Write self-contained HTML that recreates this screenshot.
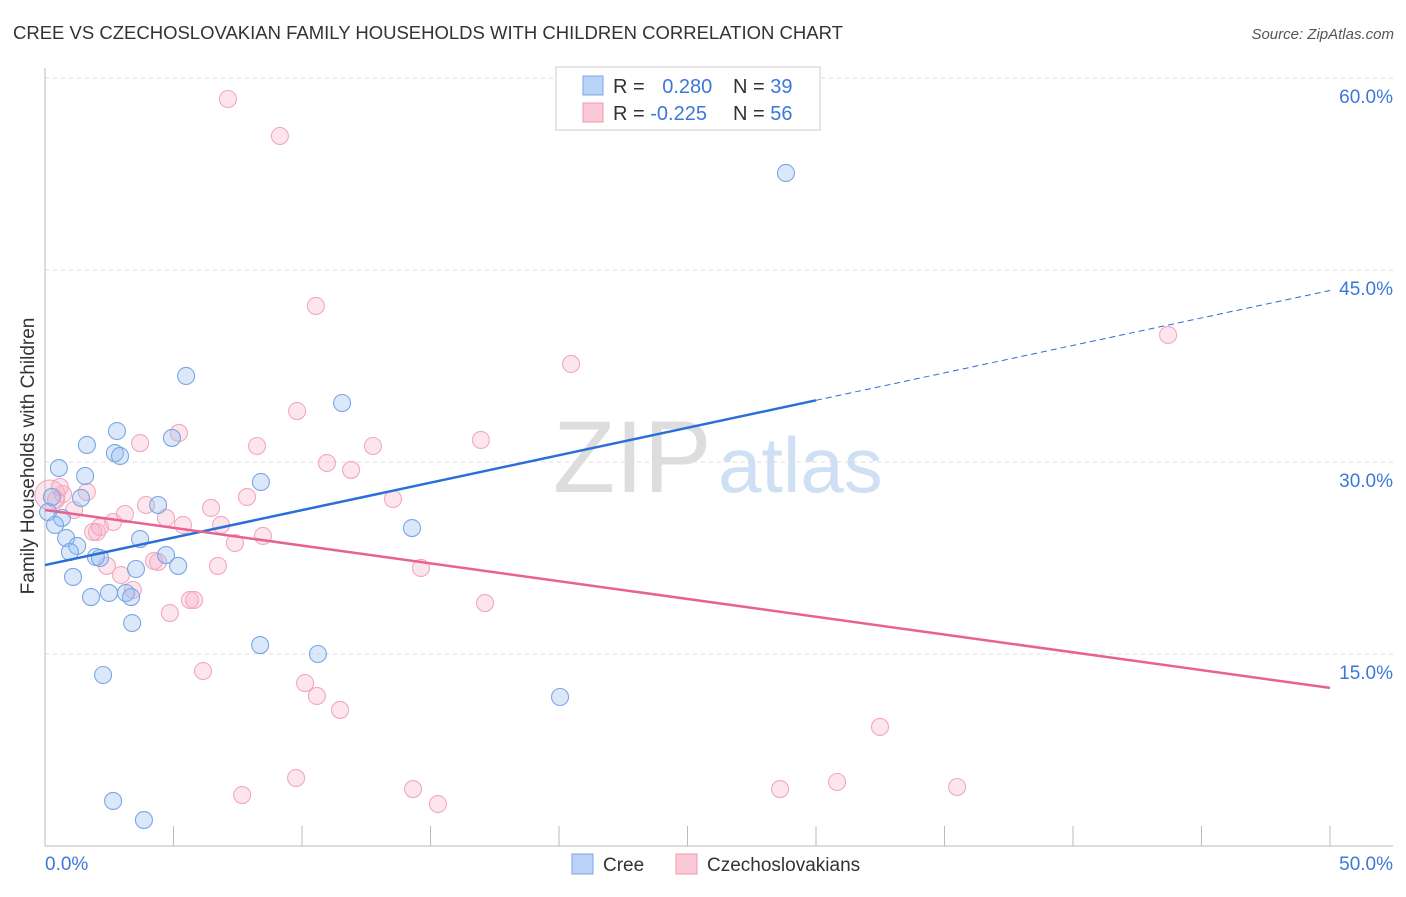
<!DOCTYPE html>
<html><head><meta charset="utf-8"><style>
body{margin:0;background:#fff;font-family:"Liberation Sans",sans-serif}
svg text{font-family:"Liberation Sans",sans-serif}
</style></head><body>
<svg id="c" width="1406" height="892" xmlns="http://www.w3.org/2000/svg">
<text x="13" y="39" font-size="18.5" fill="#333">CREE VS CZECHOSLOVAKIAN FAMILY HOUSEHOLDS WITH CHILDREN CORRELATION CHART</text>
<text x="1394" y="39" font-size="15" fill="#555" text-anchor="end" font-style="italic">Source: ZipAtlas.com</text>
<text x="34" y="456" font-size="19" fill="#333" text-anchor="middle" transform="rotate(-90 34 456)">Family Households with Children</text>
<text x="553" y="492" font-size="102" fill="#ddd" font-family="Liberation Serif">ZIP</text>
<text x="718" y="492" font-size="78" fill="#cfe0f5">atlas</text>
<g id="grid"></g><g id="axes"></g><g id="pts"></g><g id="lines"></g>
<g>
<rect x="556" y="67" width="264" height="63" fill="#fff" stroke="#ccc"/>
<rect x="583" y="76" width="20" height="19" fill="#b9d2f5" stroke="#7aa6e6"/>
<rect x="583" y="103" width="20" height="19" fill="#fcc9d7" stroke="#ee9ab3"/>
<text x="613" y="93" font-size="20" fill="#333">R = <tspan fill="#3b78d8" dx="12">0.280</tspan></text>
<text x="733" y="93" font-size="20" fill="#333">N = <tspan fill="#3b78d8">39</tspan></text>
<text x="613" y="120" font-size="20" fill="#333">R = <tspan fill="#3b78d8">-0.225</tspan></text>
<text x="733" y="120" font-size="20" fill="#333">N = <tspan fill="#3b78d8">56</tspan></text>
</g>
<g>
<rect x="572" y="854" width="21" height="20" fill="#b9d2f5" stroke="#7aa6e6"/>
<text x="603" y="871" font-size="19" fill="#333">Cree</text>
<rect x="676" y="854" width="21" height="20" fill="#fcc9d7" stroke="#ee9ab3"/>
<text x="707" y="871" font-size="19" fill="#333">Czechoslovakians</text>
</g>
</svg>
<script>
const creeX=[28.83,5.49,11.56,2.80,1.63,4.94,2.72,2.92,0.54,1.56,8.40,1.40,0.27,0.12,0.66,4.40,0.39,14.28,0.82,3.70,1.25,0.97,4.71,1.98,2.14,5.18,3.54,1.09,2.49,3.15,1.79,3.35,3.39,8.37,10.62,2.26,20.04,2.65,3.85];
const creeY=[52.58,36.72,34.61,32.42,31.33,31.88,30.70,30.47,29.53,28.91,28.44,27.19,27.27,26.09,25.63,26.64,25.08,24.84,24.06,23.98,23.44,22.97,22.73,22.58,22.50,21.88,21.64,21.02,19.77,19.77,19.45,19.45,17.42,15.70,15.0,13.36,11.64,3.52,2.03];
const czX=[0.19,7.12,9.14,10.54,20.47,43.70,9.81,5.21,3.70,8.25,12.76,16.96,10.97,11.91,0.70,1.63,7.86,13.54,3.93,1.13,6.46,3.11,4.71,2.65,5.37,6.85,2.02,1.87,8.48,7.39,4.24,4.40,2.41,6.73,14.63,2.96,3.42,5.64,5.80,17.12,4.86,6.15,10.12,10.58,11.48,32.49,9.77,7.67,14.32,15.29,28.60,30.82,35.49,0.43,2.14,0.58];
const czY=[27.42,58.36,55.47,42.19,37.66,39.92,33.98,32.27,31.48,31.25,31.25,31.72,29.92,29.38,27.50,27.66,27.27,27.11,26.64,26.25,26.41,25.94,25.63,25.31,25.08,25.08,24.53,24.53,24.22,23.67,22.27,22.19,21.88,21.88,21.72,21.17,20.0,19.22,19.22,18.98,18.20,13.67,12.73,11.72,10.63,9.30,5.31,3.98,4.45,3.28,4.45,5.0,4.61,27.03,24.92,28.05];
const yTicks=[15,30,45,60];
const yTickLabels=["15.0%","30.0%","45.0%","60.0%"];
const xTicks=[0,5,10,15,20,25,30,35,40,45,50];
const creeTrend=[21.95,43.4];
const czTrend=[26.25,12.35];
const creeSolidEnd=30;
const NS="http://www.w3.org/2000/svg";
const X=v=>45+v*25.7, Y=v=>846-v*12.8;
function mk(p,t,a){const e=document.createElementNS(NS,t);for(const k in a)e.setAttribute(k,a[k]);document.getElementById(p).appendChild(e);return e;}
yTicks.forEach((t,i)=>{
 const g=mk('grid','line',{x1:45,x2:1393,y1:Y(t),y2:Y(t),stroke:'#ddd','stroke-dasharray':'4,4'});
 
 
 const l=mk('axes','text',{x:1393,y:Y(t)+25,'font-size':19,fill:'#3b78d8','text-anchor':'end'});
 l.textContent=yTickLabels[i];
 
 
});
const ax=mk('axes','line',{x1:45,x2:1393,y1:846,y2:846,stroke:'#bbb'});


const ay=mk('axes','line',{x1:45,x2:45,y1:68,y2:846,stroke:'#bbb'});


xTicks.forEach(t=>{const e=mk('axes','line',{x1:X(t),x2:X(t),y1:826,y2:846,stroke:'#bbb'});
 
 });
[["0.0%",45,'start'],["50.0%",1393,'end']].forEach(a=>{const e=mk('axes','text',{x:a[1],y:870,'font-size':19,fill:'#3b78d8','text-anchor':a[2]});e.textContent=a[0];
 
 });
czX.forEach((v,i)=>{const c=mk('pts','circle',{cx:X(v),cy:Y(czY[i]),r:i==0?15:8.5,fill:'rgba(248,170,195,0.3)',stroke:'#f2a8be','stroke-width':1.1});
 
 });
creeX.forEach((v,i)=>{const c=mk('pts','circle',{cx:X(v),cy:Y(creeY[i]),r:8.5,fill:'rgba(150,190,240,0.35)',stroke:'#7aa6e6','stroke-width':1.1});
 
 });
const cy=x=>creeTrend[0]+(creeTrend[1]-creeTrend[0])*x/50;
const l1=mk('lines','line',{x1:X(0),y1:Y(cy(0)),x2:X(creeSolidEnd),y2:Y(cy(creeSolidEnd)),stroke:'#2a6fd6','stroke-width':2.5});


const l2=mk('lines','line',{x1:X(creeSolidEnd),y1:Y(cy(creeSolidEnd)),x2:X(50),y2:Y(cy(50)),stroke:'#2a6fd6','stroke-width':1,'stroke-dasharray':'6,4'});


const l3=mk('lines','line',{x1:X(0),y1:Y(czTrend[0]),x2:X(50),y2:Y(czTrend[1]),stroke:'#e8628f','stroke-width':2.5});


</script>
</body></html>
